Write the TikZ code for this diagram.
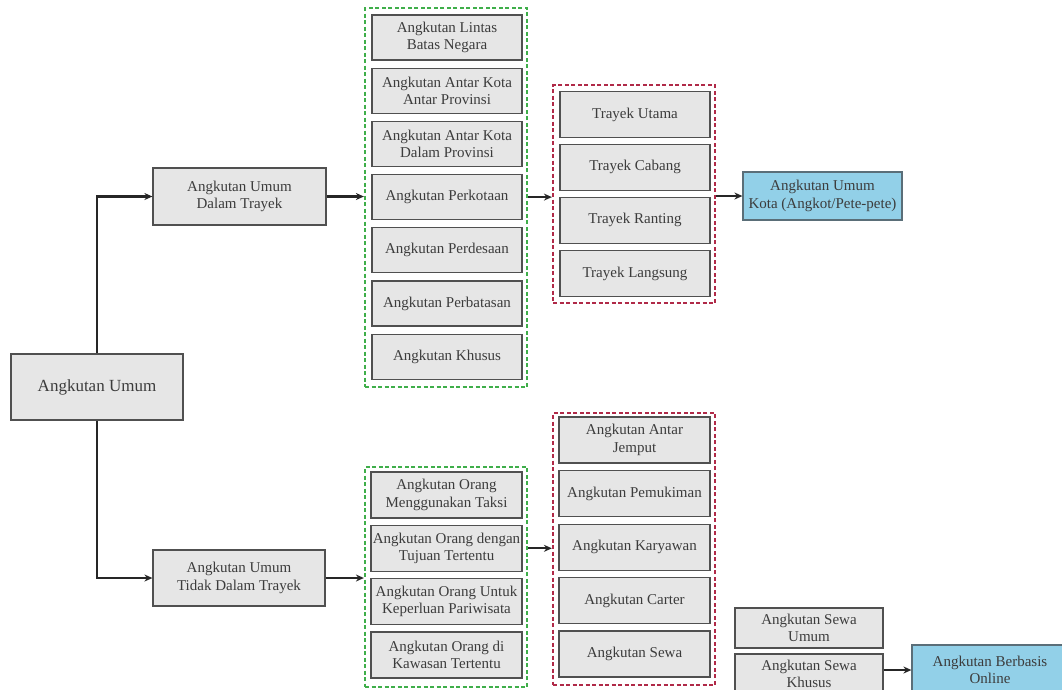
\documentclass[tikz,border=0pt]{standalone}
\usepackage{fontspec}
\setmainfont{Liberation Serif}
\usetikzlibrary{arrows.meta}
\definecolor{boxfill}{HTML}{E6E6E6}
\definecolor{boxborder}{HTML}{505050}
\definecolor{txtgray}{HTML}{3C3C3C}
\definecolor{bluefill}{HTML}{92D0E8}
\definecolor{blueborder}{HTML}{5A6E78}
\definecolor{dgreen}{HTML}{3FAE4A}
\definecolor{dred}{HTML}{B02A48}
\tikzset{
  box/.style={draw=boxborder, fill=boxfill, line width=1.2pt, text=txtgray, align=center, inner sep=0pt,
    font=\fontsize{15}{17.5}\selectfont},
  bluebox/.style={box, draw=blueborder, fill=bluefill},
  greencont/.style={draw=dgreen, line width=2.2pt, dash pattern=on 4pt off 2.5pt, inner sep=0pt},
  redcont/.style={draw=dred, line width=2.2pt, dash pattern=on 4pt off 2.5pt, inner sep=0pt},
  conn/.style={draw=black!85, line width=2.2pt, -{Stealth[length=8pt,width=7pt]}},
}
\begin{document}
\begin{tikzpicture}[x=1pt,y=-1pt]
\useasboundingbox (0,0) rectangle (1062,689);
\fill[white] (0,0) rectangle (1062,689);

% root and branches
\node[box, minimum width=172, minimum height=66, font=\fontsize{17}{20}\selectfont] (root) at (97,387) {Angkutan Umum};
\node[box, minimum width=173, minimum height=57] (dt) at (239.5,196.5) {Angkutan Umum\\Dalam Trayek};
\node[box, minimum width=172, minimum height=56] (tdt) at (239,578) {Angkutan Umum\\Tidak Dalam Trayek};

% containers
\node[greencont, minimum width=162, minimum height=379] (g1) at (446,197.5) {};
\node[redcont, minimum width=162, minimum height=218] (r1) at (634,194) {};
\node[greencont, minimum width=162, minimum height=220] (g2) at (446,577) {};
\node[redcont, minimum width=162, minimum height=272] (r2) at (634,549) {};

% green 1 items
\node[box, minimum width=150, minimum height=45] (a1) at (447,37.5) {Angkutan Lintas\\Batas Negara};
\node[box, minimum width=150, minimum height=45] (a2) at (447,90.7) {Angkutan Antar Kota\\Antar Provinsi};
\node[box, minimum width=150, minimum height=45] (a3) at (447,143.9) {Angkutan Antar Kota\\Dalam Provinsi};
\node[box, minimum width=150, minimum height=45] (a4) at (447,197.1) {Angkutan Perkotaan};
\node[box, minimum width=150, minimum height=45] (a5) at (447,250.3) {Angkutan Perdesaan};
\node[box, minimum width=150, minimum height=45] (a6) at (447,303.5) {Angkutan Perbatasan};
\node[box, minimum width=150, minimum height=45] (a7) at (447,356.7) {Angkutan Khusus};

% red 1 items
\node[box, minimum width=150, minimum height=46] (t1) at (635,114.5) {Trayek Utama};
\node[box, minimum width=150, minimum height=46] (t2) at (635,167.3) {Trayek Cabang};
\node[box, minimum width=150, minimum height=46] (t3) at (635,220.3) {Trayek Ranting};
\node[box, minimum width=150, minimum height=46] (t4) at (635,273.5) {Trayek Langsung};

% blue 1
\node[bluebox, minimum width=159, minimum height=48] (kota) at (822.5,196) {Angkutan Umum\\Kota (Angkot/Pete-pete)};

% green 2 items
\node[box, minimum width=151, minimum height=46] (b1) at (446.5,495) {Angkutan Orang\\Menggunakan Taksi};
\node[box, minimum width=151, minimum height=46] (b2) at (446.5,548.3) {Angkutan Orang dengan\\Tujuan Tertentu};
\node[box, minimum width=151, minimum height=46] (b3) at (446.5,601.6) {Angkutan Orang Untuk\\Keperluan Pariwisata};
\node[box, minimum width=151, minimum height=46] (b4) at (446.5,655) {Angkutan Orang di\\Kawasan Tertentu};

% red 2 items
\node[box, minimum width=151, minimum height=46] (c1) at (634.5,440) {Angkutan Antar\\Jemput};
\node[box, minimum width=151, minimum height=46] (c2) at (634.5,493.6) {Angkutan Pemukiman};
\node[box, minimum width=151, minimum height=46] (c3) at (634.5,547.2) {Angkutan Karyawan};
\node[box, minimum width=151, minimum height=46] (c4) at (634.5,600.6) {Angkutan Carter};
\node[box, minimum width=151, minimum height=46] (c5) at (634.5,654) {Angkutan Sewa};

% sewa
\node[box, minimum width=148, minimum height=40] (s1) at (809,628) {Angkutan Sewa\\Umum};
\node[box, minimum width=148, minimum height=40] (s2) at (809,674) {Angkutan Sewa\\Khusus};
\node[bluebox, minimum width=156, minimum height=50] (online) at (990,670) {Angkutan Berbasis\\Online};

% connectors
\draw[conn] (root.north) |- (dt.west);
\draw[conn] (root.south) |- (tdt.west);
\draw[conn] (dt.east) -- (dt.east -| g1.west);
\draw[conn] (g1.east |- a4.east) -- (r1.west |- a4.east);
\draw[conn] (r1.east |- kota.west) -- (kota.west);
\draw[conn] (tdt.east) -- (tdt.east -| g2.west);
\draw[conn] (g2.east |- b2.east) -- (r2.west |- b2.east);
\draw[conn] (s2.east |- online.west) -- (online.west);
\end{tikzpicture}
\end{document}
